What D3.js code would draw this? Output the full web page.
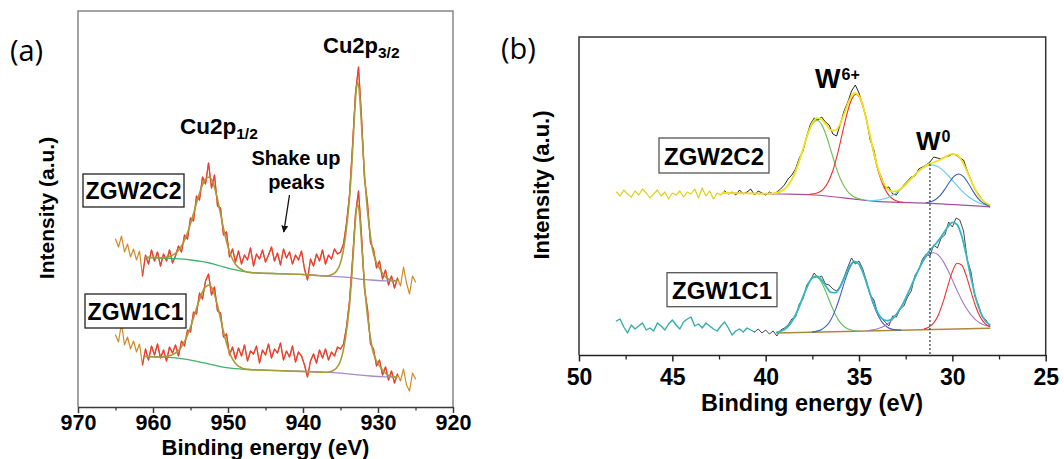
<!DOCTYPE html>
<html>
<head>
<meta charset="utf-8">
<script src="https://cdn.jsdelivr.net/npm/d3@7"></script>
<style>
  html, body { margin: 0; padding: 0; background: #fff; }
  svg { display: block; }
</style>
</head>
<body>
<svg id="chart" width="1064" height="459"></svg>
<script>
// ======================= DATA =======================
// ---- Panel (a): Cu 2p ----
const aMajorTicks = [970, 960, 950, 940, 930, 920];
const aMinorTicks = [965, 955, 945, 935, 925];
const aRawStart = 965, aRawStep = 0.4;   // raw spectra sampled from 965 eV downwards
const aRawZGW2C2 = [168,160,171,155,163,150,158,147,156,131,
  152,143,157,146,155,141,153,146,157,144,
  151,161,155,172,168,189,186,211,207,230,
  223,244,219,232,201,199,172,175,150,158,
  145,156,143,152,147,159,141,153,148,157,
  145,152,160,146,154,142,158,149,155,143,
  152,147,156,138,127,148,141,153,146,157,
  143,152,148,158,153,155,163,184,212,261,
  314,340,290,228,204,164,158,139,146,128,
  137,122,131,119,129,121,140,124,113,131,
  125];
const aRawZGW1C1 = [72,65,84,62,70,58,66,55,63,42,
  58,47,61,52,63,49,57,46,60,54,
  62,51,66,61,77,75,95,93,114,108,
  126,133,112,120,96,94,70,73,52,60,
  48,59,51,62,46,56,53,61,44,57,
  52,63,49,58,54,64,47,56,50,61,
  45,55,51,42,30,46,53,44,57,49,
  58,47,55,51,60,58,63,80,106,147,
  193,216,172,118,98,63,58,41,47,32,
  40,27,36,24,33,26,38,22,16,34,
  28];
const aFitRange = [961.4, 927.4];
const aBgHighZGW2C2 = [[961,149.5],[959,149.0],[957,148.4],[956,147.8],[955,147.0],[954,146.0],[953,144.8],[952.5,144.0],[952,143.1],[951,141.0],[950,138.8],[949,137.1],[948,135.6],[947,134.5],[946,134.0],[944,133.5],[942.5,133.1]];
const aBgLowZGW2C2 = [[942.5,133.1],[940,132.5],[937,131.0],[935,130.2],[934,129.6],[933,128.7],[932,127.6],[931,127.0],[930,126.5],[929,126.2],[927.5,126.0]];
const aFitZGW2C2 = [[961,149.6],[960,149.5],[959,149.3],[958.5,149.5],[958,150.1],[957.5,151.3],[957,153.6],[956.5,157.5],[956,163.6],[955.5,172.1],[955,183.2],[954.5,195.9],[954,209.0],[953.5,220.3],[953,227.9],[952.5,230.0],[952,224.4],[951.5,211.0],[951,193.2],[950.5,175.3],[950,160.3],[949.5,149.5],[949,142.8],[948.5,138.8],[948,136.6],[947.5,135.0],[947,134.5],[946,134.0],[944,133.5],[940,132.5],[938,131.5],[937,131.0],
  [936.3,131.9],[935.9,133.3],[935.5,136.3],[935.1,142.0],[934.7,153.5],[934.5,162.2],[934.3,172.9],[934.1,185.5],[933.9,200.1],[933.7,218.6],[933.5,240.9],[933.3,268.2],[933.1,295.5],[932.9,316.9],[932.7,324.5],[932.5,316.4],[932.3,294.6],[932.1,268.9],[931.9,245.2],[931.7,222.6],[931.5,203.7],[931.3,188.9],[931.1,176.1],[930.9,165.2],[930.7,156.3],[930.3,146.3],[929.9,140.2],[929.5,135.1],[929.1,131.1],[928.7,128.5],[928.3,127.0],[927.5,126.0]];
const aBgHighZGW1C1 = [[961,50.5],[959,50.0],[958,49.7],[957,49.2],[956,48.2],[955,46.8],[954,45.4],[953,43.8],[952,42.1],[951,40.4],[950,39.1],[949,38.3],[948,37.7],[947,37.4],[945,36.8],[942.5,36.2]];
const aBgLowZGW1C1 = [[942.5,36.2],[941,35.8],[938,35.0],[937,34.7],[936,34.4],[935,33.9],[934,33.2],[933,32.4],[932,31.6],[931,31.0],[930,30.5],[929,30.1],[928,29.8],[927.5,29.7]];
const aFitZGW1C1 = [[961,50.5],[960,50.2],[959,50.0],[958.5,50.4],[958,50.9],[957.5,52.0],[957,54.0],[956.5,57.3],[956,62.7],[955.5,70.2],[955,80.1],[954.5,91.5],[954,103.2],[953.5,113.4],[953,120.1],[952.5,122.0],[952,116.8],[951.5,104.5],[951,88.4],[950.5,72.2],[950,58.8],[949.5,49.4],[949,43.5],[948.5,40.3],[948,38.6],[947,37.4],[945,36.8],[941,35.8],[938,35.0],[937,34.7],
  [936.3,35.5],[935.9,36.8],[935.5,39.3],[935.1,44.2],[934.7,54.1],[934.5,61.7],[934.3,70.8],[934.1,81.8],[933.9,94.3],[933.7,110.4],[933.5,129.7],[933.3,153.4],[933.1,177.0],[932.9,195.6],[932.7,202.2],[932.5,195.2],[932.3,176.4],[932.1,154.1],[931.9,133.5],[931.7,113.9],[931.5,97.6],[931.3,84.8],[931.1,73.6],[930.9,64.2],[930.7,56.4],[930.3,47.7],[929.9,42.4],[929.5,38.0],[929.1,34.5],[928.7,32.0],[928.3,30.8],[927.5,29.7]];

// ---- Panel (b): W 4f ----
const bMajorTicks = [50, 45, 40, 35, 30, 25];
const bMinorTicks = [47.5, 42.5, 37.5, 32.5, 27.5];
const bRawStart = 48, bRawStep = 0.2;
const bRawZGW2C2 = [163,159,165,161,158,164,160,166,162,157,
  161,165,159,163,156,162,160,164,158,163,
  161,166,157,167,159,164,156,162,160,164,
  161,163,160,165,161,163,166,160,164,162,
  160,163,161,163,166,170,176,180,186,197,
  204,219,231,237,235,238,233,230,221,219,
  231,244,253,264,270,262,250,236,215,205,
  186,178,167,168,161,160,166,170,174,178,
  179,186,188,190,193,198,197,196,198,199,
  201,200,197,195,184,175,166,161,155,151,
  148];
const bRawZGW1C1 = [34,36,28,22,30,26,29,32,25,27,
  24,32,29,25,31,35,30,26,33,36,
  38,29,31,27,32,29,26,24,29,33,
  27,20,24,26,23,27,25,23,26,22,
  25,21,24,19,25,27,30,36,38,51,
  56,70,75,82,77,79,71,70,66,64,
  69,78,88,97,91,94,86,74,60,55,
  41,37,33,29,39,38,46,49,58,64,
  80,85,96,101,99,110,107,117,120,133,
  128,137,135,124,95,83,59,50,38,35,
  29];
const bFitStartZGW2C2 = 42.2, bFitStartZGW1C1 = 40.6;
const bBgZGW2C2 = [[42.3,162],[39.2,161],[37.4,160],[35.6,156.7],[33.9,153.3],[31.2,151.7],[28,148.2]];
const bFitZGW2C2 = [[42.3,162],[41,161.7],[40,161.3],[39.75,161.5],[39.5,161.9],[39.25,163.1],[39,165.8],[38.75,171.0],[38.5,179.4],[38.25,191.4],[38,206.0],[37.75,220.7],[37.5,231.8],[37.25,236.9],[37,235.4],[36.75,230.0],[36.5,224.9],[36.25,224.7],[36,231.5],[35.75,243.5],[35.5,255.5],[35.25,262.1],[35,259.2],[34.75,246.5],[34.5,227.0],[34.25,206.0],[34,187.6],[33.75,174.3],[33.5,166.6],[33.25,163.5],[33,163.9],[32.75,166.6],[32.5,170.6],[32.25,175.4],[32,180.2],[31.75,184.6],[31.5,188.3],[31.25,190.9],[31,192.75],[30.75,194.5],[30.5,196.7],[30.25,199.4],[30,201.2],[29.75,200.0],[29.5,194.5],[29.25,185.2],[29,174.4],[28.75,164.5],[28.5,157.1],[28.25,152.6],[28,150.1]];
const bGreenZGW2C2 = [[39.5,161.9],[39.25,163.1],[39,165.8],[38.75,171.0],[38.5,179.4],[38.25,191.4],[38,205.9],[37.75,220.4],[37.5,231.0],[37.25,234.8],[37,230.4],[36.75,219.2],[36.5,204.1],[36.25,188.9],[36,176.3],[35.75,167.3],[35.5,161.3],[35.25,158.0],[35,156.2],[34.75,155.2]];
const bRedZGW2C2 = [[37.65,160.6],[37.4,161.2],[37.15,162.7],[36.9,166.2],[36.65,173.1],[36.4,184.5],[36.15,201.1],[35.9,221.1],[35.65,240.9],[35.4,255.5],[35.15,260.7],[34.9,254.5],[34.65,238.8],[34.4,217.9],[34.15,197.0],[33.9,179.5],[33.65,167.3],[33.4,159.7],[33.15,155.5],[32.9,153.5],[32.65,152.6]];
const bCyanZGW2C2 = [[34.6,154.7],[34.35,154.5],[34.1,154.8],[33.85,155.3],[33.6,156.4],[33.35,158.3],[33.1,160.9],[32.85,164.3],[32.6,168.5],[32.35,173.3],[32.1,178.3],[31.85,182.9],[31.6,186.7],[31.35,189.2],[31.1,190.0],[30.85,189.0],[30.6,186.1],[30.35,181.9],[30.1,176.9],[29.85,171.5],[29.6,166.3],[29.35,161.7],[29.1,157.8],[28.85,154.7],[28.6,152.3],[28.35,150.7],[28.1,149.6],[28,149.2]];
const bBlueZGW2C2 = [[31.4,152.2],[31.15,153.2],[30.9,155.5],[30.65,159.6],[30.4,165.8],[30.15,173.0],[29.9,178.9],[29.65,181.0],[29.4,178.3],[29.15,171.8],[28.9,164.0],[28.65,157.2],[28.4,152.6],[28.15,150.0],[28,149.1]];
const bBgZGW1C1 = [[39.4,22.0],[28,26.7]];
const bFitZGW1C1 = [[39.4,22.6],[39.25,23.4],[39,25.5],[38.75,29.6],[38.5,36.5],[38.25,46.3],[38,58.2],[37.75,69.4],[37.5,77.2],[37.25,78.9],[37,74.9],[36.75,68.0],[36.5,62.6],[36.25,62.4],[36,68.5],[35.75,78.8],[35.5,88.9],[35.25,93.7],[35,90.8],[34.75,80.5],[34.5,66.7],[34.25,52.9],[34,42.3],[33.75,36.1],[33.5,34.3],[33.25,36.1],[33,40.8],[32.75,47.9],[32.5,56.7],[32.25,67.0],[32,77.6],[31.75,87.6],[31.5,96.5],[31.25,103.5],[31,108.9],[30.75,114.4],[30.5,121.0],[30.25,128.0],[30,132.6],[29.75,130.5],[29.5,118.9],[29.25,99.4],[29,77.1],[28.75,57.3],[28.5,43.0],[28.25,34.5],[28,30.2]];
const bGreenZGW1C1 = [[39.4,22.6],[39.25,23.4],[39,25.5],[38.75,29.6],[38.5,36.5],[38.25,46.3],[38,58.2],[37.75,69.4],[37.5,76.9],[37.25,77.9],[37,72.3],[36.75,62.0],[36.5,50.2],[36.25,39.8],[36,32.3],[35.75,27.7],[35.5,25.4],[35.25,24.3],[35,24.0]];
const bBlueZGW1C1 = [[37.5,23.1],[37.25,23.9],[37,25.6],[36.75,29.1],[36.5,35.6],[36.25,45.9],[36,59.6],[35.75,74.6],[35.5,87.1],[35.25,93.1],[35,90.6],[34.75,80.5],[34.5,66.2],[34.25,51.8],[34,40.2],[33.75,32.4],[33.5,28.0],[33.25,25.9],[33,25.1],[32.75,24.9]];
const bPurpleZGW1C1 = [[34.5,24.5],[34.25,25.2],[34,26.3],[33.75,28.0],[33.5,30.7],[33.25,34.7],[33,40.3],[32.75,47.7],[32.5,56.7],[32.25,67.0],[32,77.6],[31.75,87.6],[31.5,95.7],[31.25,100.9],[31,102.3],[30.75,99.9],[30.5,93.9],[30.25,85.2],[30,75.1],[29.75,64.7],[29.5,55.0],[29.25,46.7],[29,40.1],[28.75,35.2],[28.5,31.8],[28.25,29.7],[28,28.4]];
const bRedZGW1C1 = [[31.5,26.1],[31.25,28.0],[31,32.1],[30.75,40.1],[30.5,52.8],[30.25,68.6],[30,83.4],[29.75,91.8],[29.5,90.0],[29.25,78.9],[29,63.3],[28.75,48.5],[28.5,37.7],[28.25,31.4],[28,28.5]];
const bMarkerEnergy = 31.2, bMarkerTop = 191;

// ======================= DRAWING =======================
const FONT = "'Liberation Sans', Arial, Helvetica, sans-serif";
const svg = d3.select("#chart");

const xA = d3.scaleLinear().domain([970, 920]).range([78, 453]);
const yA = d3.scaleLinear().domain([0, 396]).range([407, 11]);
const xB = d3.scaleLinear().domain([50, 25]).range([579, 1045.7]);
const yB = d3.scaleLinear().domain([0, 318]).range([355, 37]);

const toPts = (start, step, vals) => vals.map((v, i) => [start - i * step, v]);

function drawLine(g, x, y, pts, color, width, curve) {
  g.append("path").datum(pts)
    .attr("fill", "none").attr("stroke", color).attr("stroke-width", width)
    .attr("stroke-linejoin", "round").attr("stroke-linecap", "round")
    .attr("d", d3.line().x(d => x(d[0])).y(d => y(d[1])).curve(curve || d3.curveLinear));
}

function addText(x, y, str, size, opts = {}) {
  const t = svg.append("text").attr("x", x).attr("y", y)
    .attr("font-family", opts.family || FONT)
    .attr("font-weight", opts.weight || "bold")
    .attr("font-size", size).attr("fill", "#000")
    .attr("text-anchor", opts.anchor || "start").text(str);
  if (opts.transform) t.attr("transform", opts.transform).attr("x", 0).attr("y", 0);
  return t;
}

// text with a sub/superscript part in one text element
function addScript(x, y, base, baseSize, script, scriptSize, dy, dx) {
  const t = svg.append("text").attr("x", x).attr("y", y)
    .attr("font-family", FONT).attr("font-weight", "bold")
    .attr("font-size", baseSize).attr("fill", "#000");
  t.append("tspan").text(base);
  t.append("tspan").attr("dy", dy).attr("dx", dx || 0).attr("font-size", scriptSize).text(script);
  return t;
}

function frameAndAxis(x, y, majors, minors, frameColor, axisColor, labelSize, labelY, majorLen, minorLen) {
  const [x0, x1] = x.range(), [y0, y1] = y.range();
  svg.append("path")
    .attr("d", `M${x0},${y0}V${y1}H${x1}V${y0}`)
    .attr("fill", "none").attr("stroke", frameColor).attr("stroke-width", 1.5);
  const ax = svg.append("g").attr("transform", `translate(0,${y0})`)
    .call(d3.axisBottom(x).tickValues(majors).tickSize(majorLen).tickSizeOuter(0).tickFormat(d3.format("d")));
  ax.select(".domain").attr("stroke", axisColor).attr("stroke-width", 1.5);
  ax.selectAll(".tick line").attr("stroke", axisColor).attr("stroke-width", 1.5);
  ax.selectAll(".tick text").attr("font-family", FONT).attr("font-weight", "bold")
    .attr("font-size", labelSize).attr("fill", "#000").attr("y", labelY);
  const mn = svg.append("g").attr("transform", `translate(0,${y0})`)
    .call(d3.axisBottom(x).tickValues(minors).tickSize(minorLen).tickFormat(""));
  mn.select(".domain").remove();
  mn.selectAll(".tick line").attr("stroke", axisColor).attr("stroke-width", 1.3);
}

// ---------- Panel (a) ----------
frameAndAxis(xA, yA, aMajorTicks, aMinorTicks, "#858585", "#3a3a3a", 21.5, 7.5, 6, 3.5);

const gA = svg.append("g");
[[aRawZGW2C2, aBgHighZGW2C2, aBgLowZGW2C2, aFitZGW2C2],
 [aRawZGW1C1, aBgHighZGW1C1, aBgLowZGW1C1, aFitZGW1C1]].forEach(([raw, bgH, bgL, fit]) => {
  const pts = toPts(aRawStart, aRawStep, raw);
  drawLine(gA, xA, yA, pts, "#d08a26", 1.2);
  drawLine(gA, xA, yA, pts.filter(d => d[0] <= aFitRange[0] + 1e-6 && d[0] >= aFitRange[1] - 1e-6), "#ef3b3b", 1.25);
  drawLine(gA, xA, yA, bgH, "#3cb36a", 1.3, d3.curveMonotoneX);
  drawLine(gA, xA, yA, bgL, "#a68ac8", 1.3, d3.curveMonotoneX);
  drawLine(gA, xA, yA, fit, "#aa9a38", 1.6, d3.curveMonotoneX);
});

// labels (a)
addText(26.5, 61, "(a)", 29, { family: "'Open Sans', 'Noto Sans', sans-serif", weight: "normal", anchor: "middle" });
addText(0, 0, "Intensity (a.u.)", 21, { anchor: "middle", transform: "translate(53.5,208) rotate(-90)" });
addText(265.5, 455, "Binding energy (eV)", 22, { anchor: "middle" });
addScript(323, 53.3, "Cu2p", 22, "3/2", 15.5, 5);
addScript(180, 133.5, "Cu2p", 22.5, "1/2", 15.5, 5);
addText(296, 165, "Shake up", 20, { anchor: "middle" });
addText(296.5, 188.5, "peaks", 20, { anchor: "middle" });

svg.append("defs").append("marker").attr("id", "arrowHead")
  .attr("viewBox", "0 0 10 10").attr("refX", 9).attr("refY", 5)
  .attr("markerWidth", 7).attr("markerHeight", 7).attr("orient", "auto-start-reverse")
  .attr("markerUnits", "userSpaceOnUse")
  .append("path").attr("d", "M0,0L10,5L0,10z").attr("fill", "#111");
svg.append("line").attr("x1", 289.5).attr("y1", 195).attr("x2", 283.8).attr("y2", 232)
  .attr("stroke", "#111").attr("stroke-width", 1.3).attr("marker-end", "url(#arrowHead)");

function boxLabel(x, y, w, h, str, size, tx, ty, stroke) {
  svg.append("rect").attr("x", x).attr("y", y).attr("width", w).attr("height", h)
    .attr("fill", "#fff").attr("stroke", stroke).attr("stroke-width", 1.3);
  addText(tx, ty, str, size, { anchor: "middle" });
}
boxLabel(83, 174, 101, 33, "ZGW2C2", 23, 133.5, 199.3, "#222");
boxLabel(85, 294, 101, 34, "ZGW1C1", 23, 135.5, 320, "#222");

// ---------- Panel (b) ----------
frameAndAxis(xB, yB, bMajorTicks, bMinorTicks, "#333", "#222", 23, 14, 6.5, 4.5);

const gB = svg.append("g");
// ZGW2C2
{
  const pts = toPts(bRawStart, bRawStep, bRawZGW2C2);
  drawLine(gB, xB, yB, pts.filter(d => d[0] >= bFitStartZGW2C2 - 1e-6), "#ddd01c", 1.2);
  drawLine(gB, xB, yB, pts.filter(d => d[0] <= bFitStartZGW2C2 + 1e-6), "#111", 0.9);
  drawLine(gB, xB, yB, bBgZGW2C2, "#a4509f", 1.2, d3.curveMonotoneX);
  drawLine(gB, xB, yB, bGreenZGW2C2, "#6cbf4a", 1.1, d3.curveMonotoneX);
  drawLine(gB, xB, yB, bRedZGW2C2, "#f03030", 1.1, d3.curveMonotoneX);
  drawLine(gB, xB, yB, bCyanZGW2C2, "#5ccce6", 1.1, d3.curveMonotoneX);
  drawLine(gB, xB, yB, bBlueZGW2C2, "#3b5cc0", 1.1, d3.curveMonotoneX);
  drawLine(gB, xB, yB, bFitZGW2C2, "#f2e318", 1.8, d3.curveMonotoneX);
}
// ZGW1C1
{
  const pts = toPts(bRawStart, bRawStep, bRawZGW1C1);
  drawLine(gB, xB, yB, pts.filter(d => d[0] >= bFitStartZGW1C1 - 1e-6), "#35abab", 1.4);
  drawLine(gB, xB, yB, pts.filter(d => d[0] <= bFitStartZGW1C1 + 1e-6), "#333", 0.9);
  drawLine(gB, xB, yB, bBgZGW1C1, "#ab8a3c", 1.6);
  drawLine(gB, xB, yB, bGreenZGW1C1, "#5cbf5c", 1.1, d3.curveMonotoneX);
  drawLine(gB, xB, yB, bBlueZGW1C1, "#3f60c2", 1.1, d3.curveMonotoneX);
  drawLine(gB, xB, yB, bPurpleZGW1C1, "#a274c4", 1.1, d3.curveMonotoneX);
  drawLine(gB, xB, yB, bRedZGW1C1, "#f03030", 1.1, d3.curveMonotoneX);
  drawLine(gB, xB, yB, bFitZGW1C1, "#34b8c2", 1.8, d3.curveMonotoneX);
}
// dotted marker line
svg.append("line")
  .attr("x1", xB(bMarkerEnergy)).attr("x2", xB(bMarkerEnergy))
  .attr("y1", yB(bMarkerTop)).attr("y2", yB(0))
  .attr("stroke", "#333").attr("stroke-width", 1.2).attr("stroke-dasharray", "2,2");

addText(518.5, 59, "(b)", 29, { family: "'Open Sans', 'Noto Sans', sans-serif", weight: "normal", anchor: "middle" });
addText(0, 0, "Intensity (a.u.)", 22, { anchor: "middle", transform: "translate(548.5,185) rotate(-90)" });
addText(812, 411, "Binding energy (eV)", 23.5, { anchor: "middle" });
addScript(815, 88.3, "W", 27, "6+", 16, -8.5, 1);
addScript(916, 150, "W", 26, "0", 16, -8.5, 1);
boxLabel(659, 138, 110, 35, "ZGW2C2", 24, 714, 165, "#555");
boxLabel(667, 272.7, 110, 34, "ZGW1C1", 24, 722, 299.3, "#555");
</script>
</body>
</html>
